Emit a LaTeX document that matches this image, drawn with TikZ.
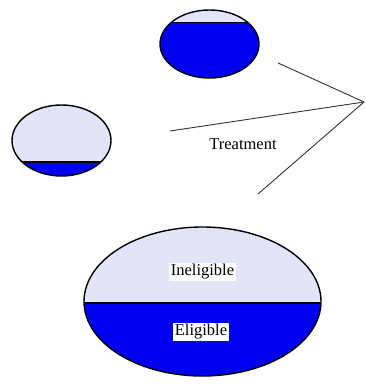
\documentclass[tikz,border=0pt]{standalone}
\usepackage{fontspec}
\setmainfont{Liberation Serif}
\usetikzlibrary{shapes.geometric}
\definecolor{lav}{RGB}{228,228,248}
\definecolor{blu}{RGB}{0,0,240}
\begin{document}
\begin{tikzpicture}[x=1pt,y=1pt,
  outline/.style={draw=black,line width=1.4pt},
  divider/.style={draw=black,line width=1.2pt},
  connector/.style={draw=black!80,line width=0.9pt},
  lbl/.style={font=\fontsize{16.5}{18}\selectfont,inner sep=1.5pt},
  boxlbl/.style={lbl,fill=white}]
\useasboundingbox (0,0) rectangle (365,-385);
% top ellipse
\begin{scope}
  \clip (209.5,-44) ellipse [x radius=49.5pt,y radius=34pt];
  \fill[lav] (150,0) rectangle (270,-90);
  \fill[blu] (150,-22) rectangle (270,-90);
  \draw[divider,line width=0.6pt] (150,-22) -- (270,-22);
\end{scope}
\node[ellipse,outline,minimum width=99pt,minimum height=68pt,inner sep=0pt] (top) at (209.5,-44) {};
% left ellipse
\begin{scope}
  \clip (61.5,-140.5) ellipse [x radius=49.5pt,y radius=35.5pt];
  \fill[lav] (0,-100) rectangle (120,-180);
  \fill[blu] (0,-162) rectangle (120,-180);
  \draw[divider] (0,-162) -- (120,-162);
\end{scope}
\node[ellipse,outline,minimum width=99pt,minimum height=71pt,inner sep=0pt] (left) at (61.5,-140.5) {};
% big ellipse
\begin{scope}
  \clip (202.5,-301.5) ellipse [x radius=118.5pt,y radius=74.5pt];
  \fill[lav] (80,-220) rectangle (330,-385);
  \fill[blu] (80,-303) rectangle (330,-385);
  \draw[divider] (80,-303) -- (330,-303);
\end{scope}
\node[ellipse,outline,minimum width=237pt,minimum height=149pt,inner sep=0pt] (big) at (202.5,-301.5) {};
\node[boxlbl] (inel) at (202.5,-272) {Ineligible};
\node[boxlbl] (elig) at (201,-332) {Eligible};
% connectors
\coordinate (apex) at (364,-102);
\coordinate (e1) at (278,-63);
\coordinate (e2) at (170,-131);
\coordinate (e3) at (258,-194);
\draw[connector] (e1) -- (apex);
\draw[connector] (e2) -- (apex);
\draw[connector] (e3) -- (apex);
\node[lbl] (treat) at (243,-144) {Treatment};
\end{tikzpicture}
\end{document}
